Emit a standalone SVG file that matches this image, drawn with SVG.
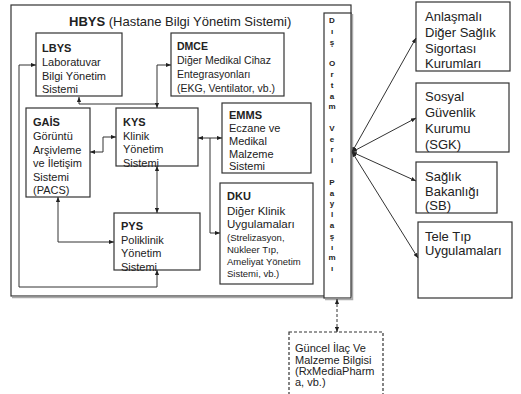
<svg xmlns="http://www.w3.org/2000/svg" width="521" height="394" viewBox="0 0 521 394">
<style>
text{font-family:"Liberation Sans",Arial,sans-serif;fill:#222}
.t{font-size:11px}
.b{font-weight:bold}
.box{fill:#fff;stroke:#333;stroke-width:1.2}
.c{fill:none;stroke:#333;stroke-width:1}
.s{font-size:8px;font-weight:bold;text-anchor:middle}
.r{font-size:13px}
.sm{font-size:9.5px}
.sh{stroke:#aaa;stroke-width:1.5;fill:none}
</style>
<defs>
<marker id="a" viewBox="0 0 6 6" refX="6" refY="3" markerWidth="5" markerHeight="5" markerUnits="userSpaceOnUse" orient="auto-start-reverse"><path d="M0,0.5L6,3L0,5.5z" fill="#222"/></marker>
</defs>
<rect width="521" height="394" fill="#fff"/>
<g id="hbys">
<rect x="11" y="5" width="340" height="291" class="box"/>
<path d="M12,297.5H324" class="sh"/>
<text x="69" y="26" style="font-size:13px"><tspan class="b">HBYS</tspan> (Hastane Bilgi Yönetim Sistemi)</text>
</g>
<g id="strip">
<rect x="324" y="13" width="27" height="285" class="box"/>
<path d="M352.5,14V299.5H325" class="sh"/>
<text class="s" x="332" y="23">D</text>
<text class="s" x="332" y="34">ı</text>
<text class="s" x="332" y="44.5">ş</text>
<text class="s" x="332" y="66">O</text>
<text class="s" x="332" y="77">r</text>
<text class="s" x="332" y="88">t</text>
<text class="s" x="332" y="98.5">a</text>
<text class="s" x="332" y="109">m</text>
<text class="s" x="332" y="131">V</text>
<text class="s" x="332" y="142">e</text>
<text class="s" x="332" y="152">r</text>
<text class="s" x="332" y="163">i</text>
<text class="s" x="332" y="185">P</text>
<text class="s" x="332" y="196">a</text>
<text class="s" x="332" y="206">y</text>
<text class="s" x="332" y="217">l</text>
<text class="s" x="332" y="228">a</text>
<text class="s" x="332" y="239">ş</text>
<text class="s" x="332" y="250">ı</text>
<text class="s" x="332" y="260">m</text>
<text class="s" x="332" y="271">ı</text>
</g>
<g id="lbys">
<rect x="36" y="33" width="86" height="63" class="box"/>
<text class="t" x="42"><tspan class="b" x="42" y="52">LBYS</tspan><tspan x="42" y="66">Laboratuvar</tspan><tspan x="42" y="79.5">Bilgi Yönetim</tspan><tspan x="42" y="93">Sistemi</tspan></text>
</g>
<g id="dmce">
<rect x="171" y="33" width="113" height="63" class="box"/>
<text style="font-size:10.5px" x="177"><tspan class="b" x="177" y="50">DMCE</tspan><tspan x="177" y="64">Diğer Medikal Cihaz</tspan><tspan x="177" y="78">Entegrasyonları</tspan><tspan x="177" y="92">(EKG, Ventilator, vb.)</tspan></text>
</g>
<g id="gais">
<rect x="26" y="108" width="64" height="89" class="box"/>
<text class="t" x="33"><tspan class="b" x="33" y="126">GAİS</tspan><tspan x="33" y="140">Görüntü</tspan><tspan x="33" y="153.5">Arşivleme</tspan><tspan x="33" y="167">ve İletişim</tspan><tspan x="33" y="181">Sistemi</tspan><tspan x="33" y="194">(PACS)</tspan></text>
</g>
<g id="kys">
<rect x="116" y="108" width="82" height="58" class="box"/>
<text class="t" x="123"><tspan class="b" x="123" y="126">KYS</tspan><tspan x="123" y="140">Klinik</tspan><tspan x="123" y="153">Yönetim</tspan><tspan x="123" y="167">Sistemi</tspan></text>
</g>
<g id="pys">
<rect x="114" y="213" width="86" height="57" class="box"/>
<text class="t" x="121"><tspan class="b" x="121" y="230">PYS</tspan><tspan x="121" y="244">Poliklinik</tspan><tspan x="121" y="257">Yönetim</tspan><tspan x="121" y="271">Sistemi</tspan></text>
</g>
<g id="emms">
<rect x="222" y="103" width="89" height="70" class="box"/>
<text class="t" x="229"><tspan class="b" x="229" y="119">EMMS</tspan><tspan x="229" y="132">Eczane ve</tspan><tspan x="229" y="145">Medikal</tspan><tspan x="229" y="157.5">Malzeme</tspan><tspan x="229" y="170">Sistemi</tspan></text>
</g>
<g id="dku">
<rect x="220" y="183" width="93" height="101" class="box"/>
<text class="t" x="227"><tspan class="b" x="227" y="200">DKU</tspan><tspan x="227" y="215" style="font-size:11.5px">Diğer Klinik</tspan><tspan x="227" y="228" style="font-size:11.5px">Uygulamaları</tspan></text>
<text class="sm" x="227"><tspan x="227" y="241">(Strelizasyon,</tspan><tspan x="227" y="253">Nükleer Tıp,</tspan><tspan x="227" y="265">Ameliyat Yönetim</tspan><tspan x="227" y="277">Sistemi, vb.)</tspan></text>
</g>
<g id="anlasmali">
<rect x="416" y="2" width="94" height="69" class="box"/>
<text class="r" x="425"><tspan x="425" y="21">Anlaşmalı</tspan><tspan x="425" y="37">Diğer Sağlık</tspan><tspan x="425" y="53">Sigortası</tspan><tspan x="425" y="68">Kurumları</tspan></text>
</g>
<g id="sgk">
<rect x="416" y="83" width="93" height="69" class="box"/>
<text class="r" x="425"><tspan x="425" y="101">Sosyal</tspan><tspan x="425" y="117">Güvenlik</tspan><tspan x="425" y="133">Kurumu</tspan><tspan x="425" y="149">(SGK)</tspan></text>
</g>
<g id="sb">
<rect x="416" y="162" width="81" height="51" class="box"/>
<text class="r" x="425"><tspan x="425" y="181">Sağlık</tspan><tspan x="425" y="196">Bakanlığı</tspan><tspan x="425" y="210">(SB)</tspan></text>
</g>
<g id="teletip">
<rect x="418" y="222" width="94" height="76" class="box"/>
<text class="r" x="425"><tspan x="425" y="241">Tele Tıp</tspan><tspan x="425" y="255">Uygulamaları</tspan></text>
</g>
<g id="guncel">
<rect x="289" y="332" width="94" height="70" class="box" style="stroke-dasharray:3,2"/>
<text class="t" x="295"><tspan x="295" y="352">Güncel İlaç Ve</tspan><tspan x="295" y="363.5">Malzeme Bilgisi</tspan><tspan x="295" y="375">(RxMediaPharm</tspan><tspan x="295" y="386">a, vb.)</tspan></text>
</g>
<g id="connectors" class="c">
<path class="c" d="M157,270V287H19V65H36" marker-start="url(#a)" marker-end="url(#a)"/>
<path class="c" d="M79,97V104H157V108" marker-start="url(#a)" marker-end="url(#a)"/>
<path class="c" d="M157,104V65H171" marker-end="url(#a)"/>
<path class="c" d="M90,152H103V137H116" marker-start="url(#a)" marker-end="url(#a)"/>
<path class="c" d="M157,166V213" marker-start="url(#a)" marker-end="url(#a)"/>
<path class="c" d="M58,197V242H114" marker-start="url(#a)" marker-end="url(#a)"/>
<path class="c" d="M198,138H222" marker-start="url(#a)" marker-end="url(#a)"/>
<path class="c" d="M210,138V233H220" marker-end="url(#a)"/>
<path class="c" d="M352,152L416,38" marker-start="url(#a)" marker-end="url(#a)"/>
<path class="c" d="M352,152L416,118" marker-start="url(#a)" marker-end="url(#a)"/>
<path class="c" d="M352,152L416,181" marker-start="url(#a)" marker-end="url(#a)"/>
<path class="c" d="M352,152L418,258" marker-start="url(#a)" marker-end="url(#a)"/>
<path class="c" d="M337,299V332" style="stroke-dasharray:3,2" marker-start="url(#a)" marker-end="url(#a)"/>
</g>
</svg>
